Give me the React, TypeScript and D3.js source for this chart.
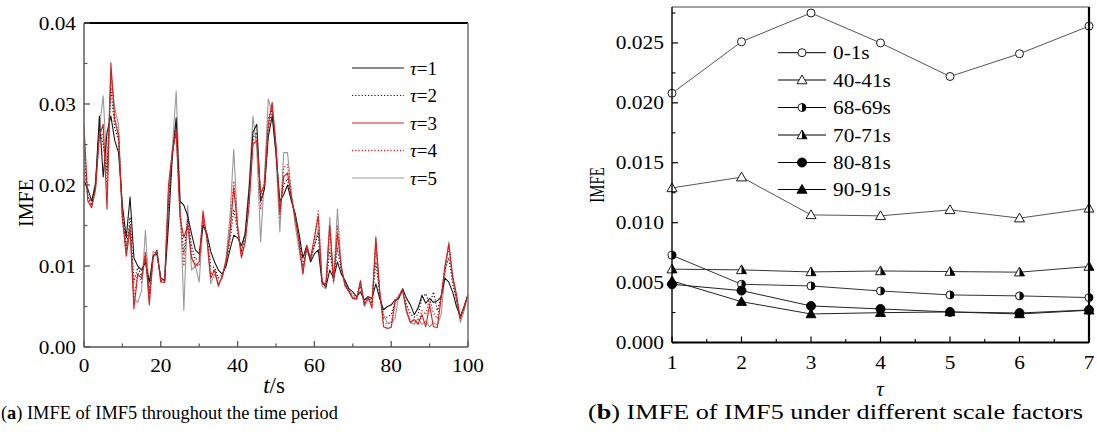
import React from "react";
import * as d3 from "d3";

// ---------- Left chart data (IMFE of IMF5 over time) ----------
const times: number[] = Array.from({ length: 101 }, (_, i) => i);
const tau1: number[] = [
  0.0205, 0.0195, 0.018, 0.02, 0.0285, 0.021, 0.0265, 0.0285, 0.0255, 0.024,
  0.0175, 0.0135, 0.0185, 0.011, 0.01, 0.0095, 0.0105, 0.008, 0.0112, 0.0115,
  0.0085, 0.0082, 0.015, 0.0235, 0.0283, 0.018, 0.0175, 0.0162, 0.014, 0.012,
  0.0115, 0.015, 0.014, 0.0118, 0.0105, 0.0095, 0.009, 0.01, 0.012, 0.0138,
  0.0135, 0.0125, 0.014, 0.0195, 0.0265, 0.0275, 0.018, 0.0195, 0.026, 0.0285,
  0.024, 0.018, 0.0188, 0.02, 0.018, 0.0165, 0.014, 0.011, 0.0125, 0.0105,
  0.0115, 0.012, 0.008, 0.0074, 0.0095, 0.0085, 0.0105, 0.009, 0.0082, 0.0072,
  0.0068, 0.0062, 0.0068, 0.0058, 0.0062, 0.006, 0.0078, 0.006, 0.0046, 0.005,
  0.0052, 0.0058, 0.006, 0.0072, 0.006, 0.0052, 0.004, 0.0048, 0.0064, 0.0054,
  0.006, 0.0055, 0.0057, 0.0062, 0.0085, 0.008, 0.0068, 0.005, 0.0038, 0.005,
  0.0065,
];
const tau2: number[] = [
  0.024, 0.0185, 0.0175, 0.0198, 0.027, 0.025, 0.0215, 0.032, 0.027, 0.0255,
  0.0168, 0.012, 0.016, 0.008, 0.0098, 0.0088, 0.011, 0.0065, 0.0112, 0.0118,
  0.0082, 0.0081, 0.0175, 0.0238, 0.0275, 0.017, 0.0115, 0.0158, 0.0125, 0.0108,
  0.011, 0.0158, 0.0138, 0.01, 0.0098, 0.0085, 0.0089, 0.0102, 0.013, 0.017,
  0.0142, 0.0118, 0.0135, 0.0185, 0.0258, 0.0265, 0.0185, 0.0198, 0.0268, 0.0295,
  0.0245, 0.0172, 0.02, 0.0208, 0.0182, 0.0162, 0.0135, 0.01, 0.0125, 0.0108,
  0.0125, 0.014, 0.008, 0.0076, 0.012, 0.0084, 0.0122, 0.0095, 0.0078, 0.007,
  0.0064, 0.0061, 0.0075, 0.0055, 0.0062, 0.0054, 0.0105, 0.0065, 0.0036, 0.0037,
  0.004, 0.0056, 0.0061, 0.0071, 0.0052, 0.0041, 0.0037, 0.004, 0.006, 0.0066,
  0.0052, 0.0068, 0.0045, 0.0062, 0.0095, 0.011, 0.0078, 0.0058, 0.0036, 0.005,
  0.0064,
];
const tau3: number[] = [
  0.0274, 0.018, 0.0172, 0.0195, 0.026, 0.0275, 0.017, 0.0351, 0.028, 0.026,
  0.016, 0.0112, 0.0145, 0.0047, 0.009, 0.0085, 0.0115, 0.0052, 0.011, 0.012,
  0.008, 0.008, 0.02, 0.024, 0.0265, 0.016, 0.0135, 0.015, 0.011, 0.01,
  0.0105, 0.0168, 0.0135, 0.0085, 0.0095, 0.0075, 0.0088, 0.0105, 0.014, 0.0197,
  0.0148, 0.011, 0.013, 0.0175, 0.025, 0.0255, 0.019, 0.02, 0.0275, 0.0302,
  0.025, 0.0165, 0.021, 0.0215, 0.0185, 0.016, 0.013, 0.009, 0.0125, 0.011,
  0.0135, 0.0162, 0.008, 0.0078, 0.015, 0.0082, 0.014, 0.01, 0.0075, 0.0068,
  0.006, 0.006, 0.0082, 0.0052, 0.0062, 0.0048, 0.0136, 0.007, 0.0025, 0.0023,
  0.0024, 0.0055, 0.0062, 0.007, 0.0045, 0.003, 0.0034, 0.0028, 0.004, 0.0025,
  0.0052, 0.0025, 0.0024, 0.006, 0.01, 0.0127, 0.0088, 0.0065, 0.0035, 0.005,
  0.0064,
];
const tau4: number[] = [
  0.0255, 0.0182, 0.0174, 0.0196, 0.0265, 0.0262, 0.0195, 0.0335, 0.0285, 0.0262,
  0.0162, 0.0115, 0.015, 0.006, 0.0092, 0.008, 0.0118, 0.0058, 0.0112, 0.0118,
  0.0081, 0.008, 0.019, 0.0242, 0.027, 0.0165, 0.01, 0.0155, 0.0115, 0.0102,
  0.01, 0.0162, 0.0135, 0.009, 0.0095, 0.0078, 0.0086, 0.0106, 0.0145, 0.0205,
  0.0148, 0.0112, 0.0135, 0.018, 0.0255, 0.026, 0.017, 0.0205, 0.0282, 0.0298,
  0.0245, 0.016, 0.0222, 0.0225, 0.0188, 0.0158, 0.0128, 0.0092, 0.0122, 0.0108,
  0.0132, 0.0168, 0.0078, 0.0075, 0.0145, 0.008, 0.015, 0.0098, 0.0076, 0.0069,
  0.0061, 0.006, 0.008, 0.0052, 0.006, 0.0052, 0.013, 0.0068, 0.003, 0.0028,
  0.003, 0.0058, 0.0064, 0.0072, 0.0047, 0.0033, 0.0032, 0.003, 0.0045, 0.004,
  0.006, 0.0042, 0.0035, 0.0063, 0.01, 0.0122, 0.0085, 0.0062, 0.0034, 0.0048,
  0.0064,
];
const tau5: number[] = [
  0.022, 0.0185, 0.018, 0.0205, 0.027, 0.031, 0.022, 0.034, 0.0295, 0.0275,
  0.0155, 0.0125, 0.015, 0.006, 0.0055, 0.007, 0.0144, 0.0065, 0.0118, 0.0115,
  0.0085, 0.0082, 0.018, 0.0245, 0.0316, 0.019, 0.0045, 0.0175, 0.0095, 0.01,
  0.008, 0.0155, 0.0135, 0.0078, 0.009, 0.0078, 0.0085, 0.011, 0.016, 0.0244,
  0.015, 0.0115, 0.0145, 0.02, 0.0285, 0.0245, 0.013, 0.021, 0.0306, 0.029,
  0.0235, 0.0142, 0.024, 0.024, 0.019, 0.015, 0.012, 0.0095, 0.012, 0.0108,
  0.0125, 0.0145, 0.0075, 0.0072, 0.016, 0.0078, 0.017, 0.0095, 0.0078, 0.007,
  0.006, 0.0058, 0.008, 0.005, 0.0058, 0.006, 0.0125, 0.0065, 0.004, 0.003,
  0.003, 0.0035, 0.0065, 0.0068, 0.0042, 0.003, 0.0028, 0.0035, 0.0028, 0.0032,
  0.0025, 0.003, 0.0027, 0.004, 0.009, 0.013, 0.0085, 0.0058, 0.003, 0.0045,
  0.0066,
];
const leftSeriesNames = ["τ=1", "τ=2", "τ=3", "τ=4", "τ=5"];
const leftYTicks = [0, 0.01, 0.02, 0.03, 0.04];
const leftYTickLabels = ["0.00", "0.01", "0.02", "0.03", "0.04"];
const leftXTicks = [0, 20, 40, 60, 80, 100];

// ---------- Right chart data (IMFE under scale factors) ----------
const scales: number[] = [1, 2, 3, 4, 5, 6, 7];
const s0_1: number[] = [0.0208, 0.0251, 0.0275, 0.025, 0.0222, 0.0241, 0.0264];
const s40_41: number[] = [0.0129, 0.0138, 0.01065, 0.01057, 0.01107, 0.01038, 0.0112];
const s68_69: number[] = [0.00728, 0.00486, 0.00472, 0.0043, 0.00397, 0.00389, 0.00375];
const s70_71: number[] = [0.00612, 0.00606, 0.00589, 0.00597, 0.00592, 0.00587, 0.00634];
const s80_81: number[] = [0.00486, 0.00433, 0.00305, 0.0028, 0.00255, 0.00246, 0.00272];
const s90_91: number[] = [0.00514, 0.00341, 0.00238, 0.00249, 0.00255, 0.00238, 0.00269];
const rightSeriesNames = ["0-1s", "40-41s", "68-69s", "70-71s", "80-81s", "90-91s"];
const rightYTicks = [0, 0.005, 0.01, 0.015, 0.02, 0.025];
const rightYTickLabels = ["0.000", "0.005", "0.010", "0.015", "0.020", "0.025"];

const FONT = "'Liberation Serif', 'Times New Roman', serif";

type MarkerKind = "openCircle" | "openTri" | "halfCircle" | "halfTri" | "fullCircle" | "fullTri";
const markerKinds: MarkerKind[] = ["openCircle", "openTri", "halfCircle", "halfTri", "fullCircle", "fullTri"];

function Marker({ kind, cx, cy }: { kind: MarkerKind; cx: number; cy: number }) {
  const r = 4;
  const s = 5;
  const tri = `M${cx},${cy - s}L${cx + s},${cy + s * 0.75}L${cx - s},${cy + s * 0.75}Z`;
  const halfTri = `M${cx},${cy - s}L${cx + s},${cy + s * 0.75}L${cx},${cy + s * 0.75}Z`;
  const halfC = `M${cx},${cy - r}A${r},${r} 0 0 1 ${cx},${cy + r}Z`;
  const st = { stroke: "#000", strokeWidth: 0.9 };
  switch (kind) {
    case "openCircle":
      return <circle cx={cx} cy={cy} r={r} fill="#fff" {...st} />;
    case "fullCircle":
      return <circle cx={cx} cy={cy} r={r + 0.5} fill="#000" {...st} />;
    case "halfCircle":
      return (
        <g>
          <circle cx={cx} cy={cy} r={r} fill="#fff" {...st} />
          <path d={halfC} fill="#000" />
        </g>
      );
    case "openTri":
      return <path d={tri} fill="#fff" {...st} />;
    case "fullTri":
      return <path d={tri} fill="#000" {...st} />;
    case "halfTri":
      return (
        <g>
          <path d={tri} fill="#fff" {...st} />
          <path d={halfTri} fill="#000" />
        </g>
      );
  }
}

function SText({ x, y, size, anchor, sx = 1.12, children, style }: any) {
  return (
    <text
      transform={`translate(${x},${y}) scale(${sx},1)`}
      textAnchor={anchor}
      fontSize={size}
      fontFamily={FONT}
      fill="#000"
      style={style}
    >
      {children}
    </text>
  );
}

export default function App() {
  // Left scales
  const xL = d3.scaleLinear().domain([0, 100]).range([84, 468]);
  const yL = d3.scaleLinear().domain([0, 0.04]).range([347, 23]);
  const lineL = d3
    .line<number>()
    .x((_, i) => xL(times[i]))
    .y((d) => yL(d));
  const leftSeries = [tau1, tau2, tau3, tau4, tau5];
  const leftStyles = [
    { stroke: "#1a1a1a", dash: undefined, w: 1.1 },
    { stroke: "#1a1a1a", dash: "1.2,2", w: 1.2 },
    { stroke: "#d81e1e", dash: undefined, w: 1.1 },
    { stroke: "#e02020", dash: "1.2,2", w: 1.3 },
    { stroke: "#9a9a9a", dash: undefined, w: 1.1 },
  ];
  const drawOrder = [4, 0, 1, 3, 2];

  // Right scales
  const xR = d3.scaleLinear().domain([1, 7]).range([672, 1089]);
  const yR = d3.scaleLinear().domain([0, 0.028]).range([342.5, 7]);
  const lineR = d3
    .line<number>()
    .x((_, i) => xR(scales[i]))
    .y((d) => yR(d));
  const rightSeries = [s0_1, s40_41, s68_69, s70_71, s80_81, s90_91];
  const rightLineColors = ["#555", "#555", "#333", "#333", "#222", "#222"];

  const leftMinorY = d3.range(0.005, 0.04, 0.01);
  const leftMinorX = d3.range(10, 100, 20);
  const rightMinorY = d3.range(0.0025, 0.028, 0.005);
  const rightMinorX = d3.range(1.5, 7, 1);

  const legendRowsL = [68, 95.5, 123, 150.5, 178];
  const legendRowsR = [52.7, 80, 107.5, 135, 162.5, 189.5];

  return (
    <svg
      width={1097}
      height={437}
      style={{ position: "absolute", left: 0, top: 0, background: "#fff" }}
    >
      <rect x={0} y={0} width={1097} height={437} fill="#fff" />

      {/* ================= LEFT CHART ================= */}
      <defs>
        <clipPath id="clipL">
          <rect x={84} y={23} width={384} height={324} />
        </clipPath>
      </defs>
      <g clipPath="url(#clipL)">
        {drawOrder.map((k) => (
          <path
            key={k}
            d={lineL(leftSeries[k]) || ""}
            fill="none"
            stroke={leftStyles[k].stroke}
            strokeWidth={leftStyles[k].w}
            strokeDasharray={leftStyles[k].dash}
            strokeLinejoin="round"
          />
        ))}
      </g>
      <line x1={84} x2={468} y1={23} y2={23} stroke="#000" strokeWidth={2} />
      <line x1={468} x2={468} y1={23} y2={347} stroke="#777" strokeWidth={1.6} />
      <line x1={84} x2={84} y1={23} y2={347} stroke="#666" strokeWidth={1.6} />
      <line x1={84} x2={468} y1={347} y2={347} stroke="#555" strokeWidth={1.6} />
      {leftYTicks.map((t) => (
        <line key={"ly" + t} x1={84} x2={90} y1={yL(t)} y2={yL(t)} stroke="#555" strokeWidth={1.3} />
      ))}
      {leftMinorY.map((t) => (
        <line key={"lmy" + t} x1={84} x2={87.5} y1={yL(t)} y2={yL(t)} stroke="#555" strokeWidth={1.2} />
      ))}
      {leftXTicks.map((t) => (
        <line key={"lx" + t} x1={xL(t)} x2={xL(t)} y1={347} y2={341} stroke="#555" strokeWidth={1.3} />
      ))}
      {leftMinorX.map((t) => (
        <line key={"lmx" + t} x1={xL(t)} x2={xL(t)} y1={347} y2={343.5} stroke="#555" strokeWidth={1.2} />
      ))}
      {leftYTicks.map((t, i) => (
        <SText key={"lyl" + t} x={76} y={yL(t) + 6.5} size={19} anchor="end">
          {leftYTickLabels[i]}
        </SText>
      ))}
      {leftXTicks.map((t) => (
        <SText key={"lxl" + t} x={xL(t)} y={372} size={19} anchor="middle">
          {String(t)}
        </SText>
      ))}
      <text
        transform="translate(33,203) rotate(-90)"
        textAnchor="middle"
        fontSize={20}
        fontFamily={FONT}
      >
        IMFE
      </text>
      <text x={274} y={393} textAnchor="middle" fontSize={23} fontFamily={FONT}>
        <tspan fontStyle="italic">t</tspan>/s
      </text>
      {leftSeriesNames.map((name, i) => (
        <g key={name}>
          <line
            x1={352}
            x2={404}
            y1={legendRowsL[i]}
            y2={legendRowsL[i]}
            stroke={leftStyles[i].stroke}
            strokeWidth={leftStyles[i].w}
            strokeDasharray={leftStyles[i].dash}
          />
          <text x={410} y={legendRowsL[i] + 6.5} fontSize={19} fontFamily={FONT}>
            <tspan fontStyle="italic">τ</tspan>
            {name.slice(1)}
          </text>
        </g>
      ))}

      {/* ================= RIGHT CHART ================= */}
      {rightSeries.map((s, k) => (
        <path
          key={"rl" + k}
          d={lineR(s) || ""}
          fill="none"
          stroke={rightLineColors[k]}
          strokeWidth={1}
        />
      ))}
      {rightSeries.map((s, k) =>
        s.map((v, i) => (
          <Marker key={"rm" + k + "-" + i} kind={markerKinds[k]} cx={xR(scales[i])} cy={yR(v)} />
        ))
      )}
      <line x1={672} x2={1089} y1={7} y2={7} stroke="#444" strokeWidth={1} />
      <line x1={1089} x2={1089} y1={7} y2={342.5} stroke="#000" strokeWidth={2.2} />
      <line x1={672} x2={672} y1={7} y2={342.5} stroke="#000" strokeWidth={1.4} />
      <line x1={672} x2={1089} y1={342.5} y2={342.5} stroke="#000" strokeWidth={1.8} />
      {rightYTicks.map((t) => (
        <line key={"ry" + t} x1={672} x2={678} y1={yR(t)} y2={yR(t)} stroke="#000" strokeWidth={1.2} />
      ))}
      {rightMinorY.map((t) => (
        <line key={"rmy" + t} x1={672} x2={675.5} y1={yR(t)} y2={yR(t)} stroke="#000" strokeWidth={1.1} />
      ))}
      {scales.map((t) => (
        <line key={"rx" + t} x1={xR(t)} x2={xR(t)} y1={342.5} y2={336.5} stroke="#000" strokeWidth={1.2} />
      ))}
      {rightMinorX.map((t) => (
        <line key={"rmx" + t} x1={xR(t)} x2={xR(t)} y1={342.5} y2={339} stroke="#000" strokeWidth={1.1} />
      ))}
      {rightYTicks.map((t, i) => (
        <SText key={"ryl" + t} x={664} y={yR(t) + 6.5} size={18.5} anchor="end" sx={1.16}>
          {rightYTickLabels[i]}
        </SText>
      ))}
      {scales.map((t) => (
        <SText key={"rxl" + t} x={xR(t)} y={368.5} size={19} anchor="middle" sx={1.12}>
          {String(t)}
        </SText>
      ))}
      <text
        transform="translate(604,185) rotate(-90) scale(0.78,1.15)"
        textAnchor="middle"
        fontSize={19}
        fontFamily={FONT}
      >
        IMFE
      </text>
      <text x={880} y={396} textAnchor="middle" fontSize={21} fontFamily={FONT} fontStyle="italic">
        τ
      </text>
      {rightSeriesNames.map((name, i) => (
        <g key={name}>
          <line x1={778} x2={826} y1={legendRowsR[i]} y2={legendRowsR[i]} stroke="#000" strokeWidth={1} />
          <Marker kind={markerKinds[i]} cx={802} cy={legendRowsR[i]} />
          <SText x={833} y={legendRowsR[i] + 6.5} size={19} anchor="start" sx={1.12}>
            {name}
          </SText>
        </g>
      ))}

      {/* ================= CAPTIONS ================= */}
      <text
        x={1}
        y={419}
        fontSize={19.5}
        fontFamily={FONT}
        textLength={337}
        lengthAdjust="spacingAndGlyphs"
      >
        (<tspan fontWeight="bold">a</tspan>) IMFE of IMF5 throughout the time period
      </text>
      <text
        x={588}
        y={419}
        fontSize={21}
        fontFamily={FONT}
        textLength={495}
        lengthAdjust="spacingAndGlyphs"
      >
        (<tspan fontWeight="bold">b</tspan>) IMFE of IMF5 under different scale factors
      </text>
    </svg>
  );
}
